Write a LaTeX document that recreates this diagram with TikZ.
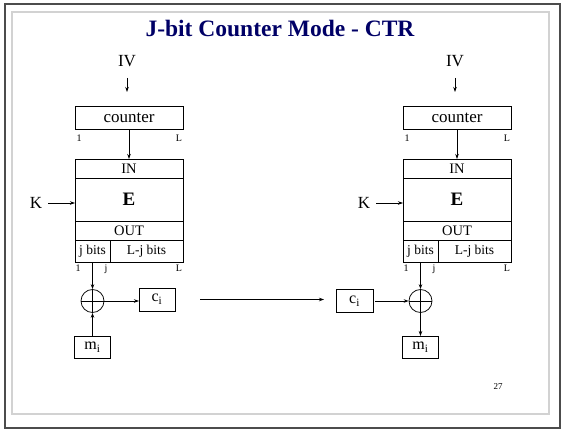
\documentclass[tikz,border=0pt]{standalone}
\usepackage{fontspec}
\setmainfont{Liberation Serif}
\usetikzlibrary{arrows.meta}
\definecolor{titleblue}{RGB}{0,0,102}

\begin{document}
\begin{tikzpicture}[x=1pt,y=-1pt,
  >={Stealth[length=5pt,width=3.5pt]},
  blk/.style={draw,line width=0.75pt,inner sep=0pt,outer sep=0pt},
  lbl/.style={inner sep=0pt,font=\fontsize{17}{17}\selectfont},
  bitlbl/.style={inner sep=0pt,anchor=base,font=\fontsize{10}{10}\selectfont},
  rowtxt/.style={font=\fontsize{14.5}{14.5}\selectfont},
  bittxt/.style={font=\fontsize{13.5}{13.5}\selectfont},
  xorop/.style={circle,draw,line width=0.75pt,minimum size=23pt,inner sep=0pt,
    path picture={\draw[line width=0.75pt] (path picture bounding box.north) -- (path picture bounding box.south)
      (path picture bounding box.west) -- (path picture bounding box.east);}},
  conn/.style={->,line width=0.7pt}]
\useasboundingbox (0,0) rectangle (561,429);
\draw[gray!35,line width=1.2pt] (12,12) rectangle (549,414);
\draw[black!70,line width=2pt] (5,4) rectangle (560,428);

\node[anchor=base,text=titleblue,font=\fontsize{23.5}{23.5}\selectfont\bfseries] (title) at (280,36) {J-bit Counter Mode - CTR};

% left block
\node[lbl] (ivA) at (127,61) {IV};
\coordinate (ivAend) at (127,92);
\draw[conn,shorten <=11pt] (ivA.south) -- (ivAend);

\node[blk,minimum width=108pt,minimum height=23pt,font=\fontsize{17}{17}\selectfont] (ctrA) at (129,117.5) {counter};
\node[bitlbl] (ctrAone) at (79,141) {1};
\node[bitlbl] (ctrAL) at (179,141) {L};

\node[blk,rowtxt,minimum width=108pt,minimum height=19pt] (inA) at (129,168.5) {IN};
\node[blk,minimum width=108pt,minimum height=43pt,font=\fontsize{19}{19}\selectfont\bfseries] (encA) at (129,199.5) {E};
\node[blk,rowtxt,minimum width=108pt,minimum height=19pt] (outA) at (129,230.5) {OUT};
\node[blk,bittxt,minimum width=35pt,minimum height=22pt] (jbitsA) at (92.5,251) {j bits};
\node[blk,bittxt,minimum width=73pt,minimum height=22pt] (ljbitsA) at (146.5,251) {L-j bits};
\node[bitlbl] (encAone) at (78,271) {1};
\node[bitlbl] (encAj) at (106,271) {j};
\node[bitlbl] (encAL) at (179,271) {L};

\node[lbl] (kA) at (36,203) {K};
\draw[conn,shorten <=6pt] (kA.east) -- (kA.east -| encA.west);
\draw[conn] (ctrA.south) -- (inA.north);

\node[xorop] (xorA) at (92.5,301) {};
\node[blk,minimum width=36pt,minimum height=23pt,font=\fontsize{16}{16}\selectfont] (ciA) at (157,299.5) {c\textsubscript{i}};
\node[blk,minimum width=36pt,minimum height=22pt,font=\fontsize{16}{16}\selectfont] (miA) at (92.5,347) {m\textsubscript{i}};
\draw[conn] (jbitsA) -- (xorA);
\draw[conn] (xorA.east) -- (xorA.east -| ciA.west);
\draw[conn] (miA) -- (xorA);

% right block
\node[lbl] (ivB) at (455,61) {IV};
\coordinate (ivBend) at (455,92);
\draw[conn,shorten <=11pt] (ivB.south) -- (ivBend);

\node[blk,minimum width=108pt,minimum height=23pt,font=\fontsize{17}{17}\selectfont] (ctrB) at (457,117.5) {counter};
\node[bitlbl] (ctrBone) at (407,141) {1};
\node[bitlbl] (ctrBL) at (507,141) {L};

\node[blk,rowtxt,minimum width=108pt,minimum height=19pt] (inB) at (457,168.5) {IN};
\node[blk,minimum width=108pt,minimum height=43pt,font=\fontsize{19}{19}\selectfont\bfseries] (encB) at (457,199.5) {E};
\node[blk,rowtxt,minimum width=108pt,minimum height=19pt] (outB) at (457,230.5) {OUT};
\node[blk,bittxt,minimum width=35pt,minimum height=22pt] (jbitsB) at (420.5,251) {j bits};
\node[blk,bittxt,minimum width=73pt,minimum height=22pt] (ljbitsB) at (474.5,251) {L-j bits};
\node[bitlbl] (encBone) at (406,271) {1};
\node[bitlbl] (encBj) at (434,271) {j};
\node[bitlbl] (encBL) at (507,271) {L};

\node[lbl] (kB) at (364,203) {K};
\draw[conn,shorten <=6pt] (kB.east) -- (kB.east -| encB.west);
\draw[conn] (ctrB.south) -- (inB.north);

\node[xorop] (xorB) at (420.5,301) {};
\node[blk,minimum width=37pt,minimum height=23pt,font=\fontsize{16}{16}\selectfont] (ciB) at (354.5,301) {c\textsubscript{i}};
\node[blk,minimum width=36pt,minimum height=22pt,font=\fontsize{16}{16}\selectfont] (miB) at (420.5,347) {m\textsubscript{i}};
\draw[conn] (jbitsB) -- (xorB);
\draw[conn,shorten <=2pt] (ciB.east) -- (ciB.east -| xorB.west);
\draw[conn] (xorB) -- (miB);

\draw[conn,shorten <=25pt,shorten >=12pt] (ciA.east) -- (ciA.east -| ciB.west);

\node[font=\fontsize{9}{9}\selectfont] (pgnum) at (498,387) {27};
\end{tikzpicture}
\end{document}
